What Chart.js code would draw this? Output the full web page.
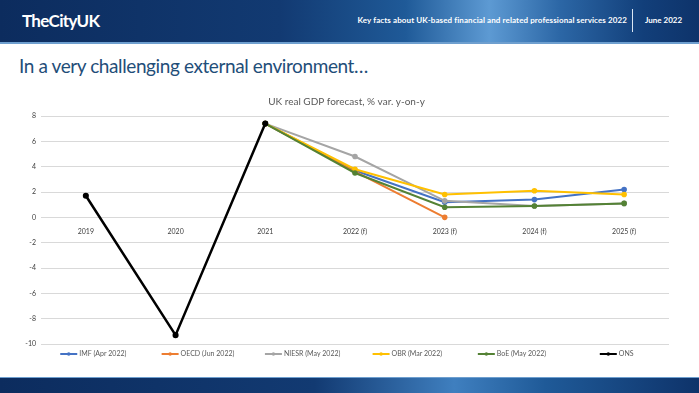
<!DOCTYPE html>
<html lang="en">
<head>
  <meta charset="UTF-8" />
  <title>UK real GDP forecast</title>
  <script src="https://cdn.jsdelivr.net/npm/chart.js"></script>
  <style>
    body {
      margin: 0;
      width: 699px;
      height: 393px;
      overflow: hidden;
      background: #fff;
      font-family: Lato, "Open Sans", sans-serif;
      position: relative;
    }
    .header {
      position: absolute;
      top: 0; left: 0;
      width: 699px;
      height: 42px;
      background: linear-gradient(90deg, #0c2c5e 0%, #123a72 40%, #1f5a98 58%, #5d9ad3 70%, #2c67a6 80%, #123f7a 92%, #0e336a 100%);
      border-bottom: 2px solid #6e9fcf;
    }
    .logo {
      position: absolute;
      left: 22px; top: 10px;
      color: #fff;
      font-weight: bold;
      font-size: 17px;
      letter-spacing: -0.7px;
    }
    .keyfacts {
      position: absolute;
      top: 15px; right: 72px;
      color: #fff;
      font-weight: bold;
      font-size: 8px;
      letter-spacing: 0.1px;
      white-space: nowrap;
    }
    .sep {
      position: absolute;
      left: 632px; top: 9px;
      width: 1px; height: 23px;
      background: #dbe7f3;
    }
    .date {
      position: absolute;
      left: 645px; top: 15px;
      color: #fff;
      font-weight: bold;
      font-size: 8px;
    }
    .subtitle {
      position: absolute;
      left: 19px; top: 54px;
      color: #1f4e79;
      font-size: 19px;
      letter-spacing: -0.4px;
    }
    .footer {
      position: absolute;
      left: 0; top: 377px;
      width: 699px; height: 16px;
      background: linear-gradient(90deg, #0c2c5e 0%, #123a72 45%, #3f7fbf 65%, #1f5a98 78%, #0e336a 100%);
      border-top: 1px solid #6e9fcf;
    }
    .chart-box {
      position: absolute;
      left: 0; top: 92px;
      width: 699px; height: 272px;
    }
  </style>
</head>
<body>
  <div class="header">
    <div class="logo">TheCityUK</div>
    <div class="keyfacts">Key facts about UK-based financial and related professional services 2022</div>
    <div class="sep"></div>
    <div class="date">June 2022</div>
  </div>
  <div class="subtitle">In a very challenging external environment…</div>
  <div class="chart-box"><canvas id="gdpChart"></canvas></div>
  <div class="footer"></div>

  <script>
    const years = ["2019", "2020", "2021", "2022 (f)", "2023 (f)", "2024 (f)", "2025 (f)"];
    const imf = [null, null, 7.4, 3.7, 1.2, 1.4, 2.2];
    const oecd = [null, null, 7.4, 3.6, 0.0, null, null];
    const niesr = [null, null, 7.4, 4.8, 1.3, 0.9, 1.1];
    const obr = [null, null, 7.4, 3.8, 1.8, 2.1, 1.8];
    const boe = [null, null, 7.4, 3.5, 0.8, 0.9, 1.1];
    const ons = [1.7, -9.3, 7.4, null, null, null, null];

    const seriesNames = ["IMF (Apr 2022)", "OECD (Jun 2022)", "NIESR (May 2022)", "OBR (Mar 2022)", "BoE (May 2022)", "ONS"];
    const seriesData = [imf, oecd, niesr, obr, boe, ons];
    const seriesColors = ["#4472c4", "#ed7d31", "#a5a5a5", "#ffc000", "#548235", "#000000"];

    const datasets = seriesNames.map((name, i) => ({
      label: name,
      data: seriesData[i],
      borderColor: seriesColors[i],
      backgroundColor: seriesColors[i],
      borderWidth: i === 5 ? 2.5 : 2,
      pointRadius: 1.8,
      pointHoverRadius: 2.5,
      order: 5 - i
    }));

    // Excel-style legend: equal slots under the plot, line + dot swatch
    const slotLegend = {
      id: "slotLegend",
      afterDraw(chart) {
        const { ctx, chartArea } = chart;
        const n = chart.data.datasets.length;
        const slot = (chartArea.right - chartArea.left) / n;
        const y = chartArea.bottom + 10;
        ctx.save();
        ctx.font = "7px Lato";
        ctx.textBaseline = "middle";
        chart.data.datasets.forEach((ds, i) => {
          const textW = ctx.measureText(ds.label).width;
          const itemW = 17 + 2 + textW;
          const x0 = chartArea.left + slot * i + (slot - itemW) / 2;
          ctx.strokeStyle = ds.borderColor;
          ctx.lineWidth = 2;
          ctx.beginPath();
          ctx.moveTo(x0, y);
          ctx.lineTo(x0 + 17, y);
          ctx.stroke();
          ctx.fillStyle = ds.borderColor;
          ctx.beginPath();
          ctx.arc(x0 + 8.5, y, 1.8, 0, Math.PI * 2);
          ctx.fill();
          ctx.fillStyle = "#595959";
          ctx.fillText(ds.label, x0 + 19, y);
        });
        ctx.restore();
      }
    };

    new Chart(document.getElementById("gdpChart"), {
      type: "line",
      data: { labels: years, datasets: datasets },
      options: {
        responsive: true,
        maintainAspectRatio: false,
        animation: false,
        layout: { padding: { left: 24, right: 30, top: 0, bottom: 20 } },
        plugins: {
          title: {
            display: true,
            text: "UK real GDP forecast, % var. y-on-y",
            color: "#595959",
            font: { family: "Lato", size: 10, weight: "normal" },
            padding: { top: 4, bottom: 8 }
          },
          legend: { display: false },
          tooltip: { enabled: false }
        },
        scales: {
          x: {
            offset: true,
            position: { y: 0 },
            grid: { display: false },
            border: { display: false },
            ticks: { color: "#404040", font: { family: "Lato", size: 7 }, maxRotation: 0, padding: 2 }
          },
          y: {
            min: -10,
            max: 8,
            afterFit: (axis) => { axis.width = 17; },
            ticks: { stepSize: 2, color: "#404040", font: { family: "Lato", size: 7 }, padding: 5 },
            grid: { color: "#d9d9d9", drawTicks: false },
            border: { display: false }
          }
        }
      },
      plugins: [slotLegend]
    });
  </script>
</body>
</html>
